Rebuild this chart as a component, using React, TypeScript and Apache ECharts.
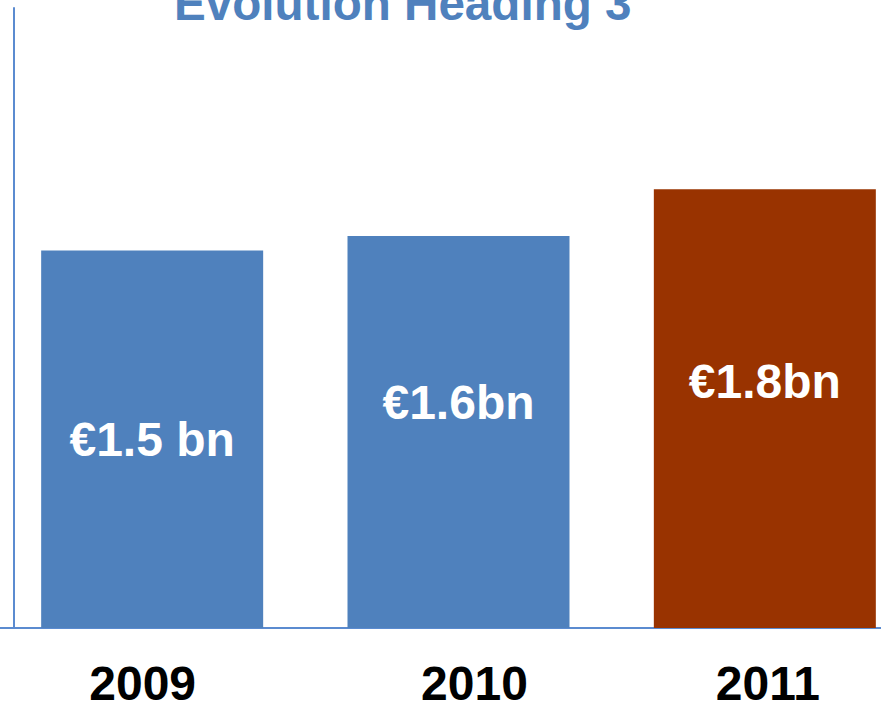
import React, { useEffect, useRef } from "react";
import * as echarts from "echarts";

const title = "Evolution Heading 3";
const years = ["2009", "2010", "2011"];
const values = [1.54, 1.6, 1.79];
const valueLabels = ["€1.5 bn", "€1.6bn", "€1.8bn"];

const barColors = ["#4F81BD", "#4F81BD", "#993300"];
const labelShift = [0, -29, -27];
const yearPadding = [
  [0, 19, 0, 0],
  [0, 0, 0, 32],
  [0, 0, 0, 6],
];

export default function App() {
  const ref = useRef<HTMLDivElement>(null);
  useEffect(() => {
    if (!ref.current) return;
    const chart = echarts.init(ref.current, null, { renderer: "svg" });
    const font = "'Liberation Sans', Arial, sans-serif";
    chart.setOption({
      animation: false,
      backgroundColor: "#ffffff",
      title: {
        text: title,
        left: 174,
        top: -21,
        padding: 0,
        textStyle: {
          color: "#4F81BD",
          fontSize: 47.6,
          fontWeight: "bold",
          fontFamily: font,
        },
      },
      grid: {
        left: -1,
        width: 919,
        top: 8,
        bottom: 75,
        containLabel: false,
        outerBoundsMode: "none",
      },
      xAxis: {
        type: "category",
        data: years.map((y, i) => ({
          value: y,
          textStyle: { padding: yearPadding[i] },
        })),
        axisLine: { show: true, lineStyle: { color: "#5B8BD0", width: 2 } },
        axisTick: { show: false },
        axisLabel: {
          color: "#000000",
          fontSize: 48,
          lineHeight: 42,
          fontWeight: "bold",
          fontFamily: font,
          margin: 34,
          interval: 0,
        },
        splitLine: { show: false },
      },
      yAxis: {
        type: "value",
        min: 0,
        max: 2.53,
        offset: -15,
        axisLine: { show: true, lineStyle: { color: "#5B8BD0", width: 2 } },
        axisTick: { show: false },
        axisLabel: { show: false },
        splitLine: { show: false },
      },
      series: [
        {
          type: "bar",
          barWidth: 222,
          data: values.map((v, i) => ({
            value: v,
            itemStyle: { color: barColors[i] },
            label: {
              show: true,
              position: "inside",
              offset: [0, labelShift[i]],
              formatter: valueLabels[i],
              color: "#ffffff",
              fontSize: 48,
              fontWeight: "bold",
              fontFamily: font,
            },
          })),
        },
      ],
    });
    return () => chart.dispose();
  }, []);
  return (
    <div
      ref={ref}
      style={{ position: "fixed", left: 0, top: 0, width: 881, height: 703 }}
    />
  );
}
